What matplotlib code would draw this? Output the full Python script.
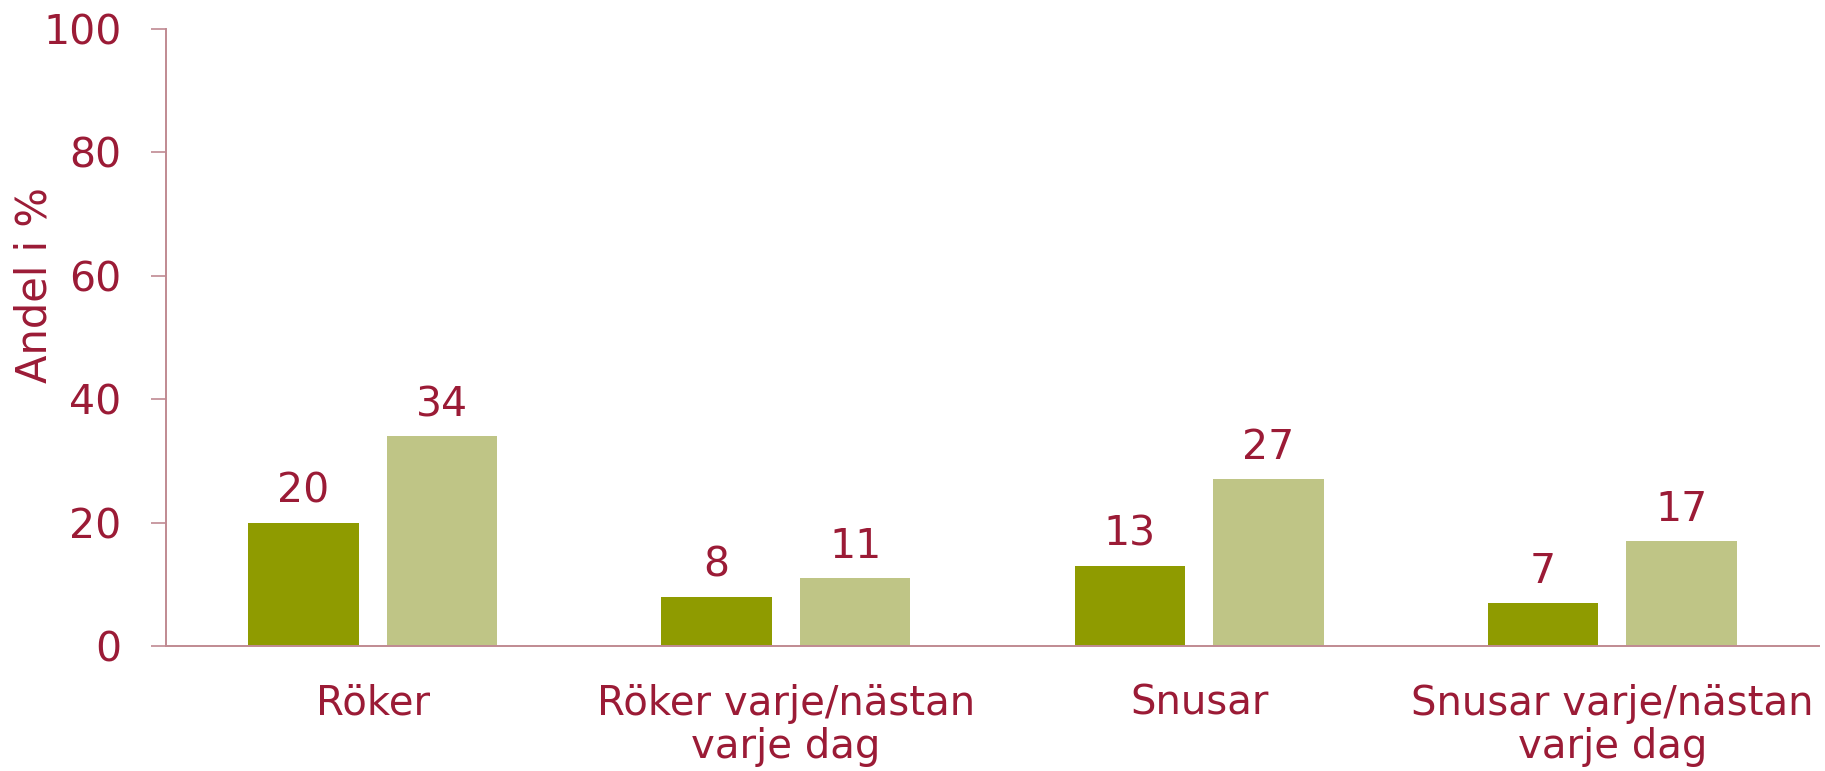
import matplotlib.pyplot as plt
import numpy as np

# data
categories = ["Röker", "Röker varje/nästan\nvarje dag", "Snusar", "Snusar varje/nästan\nvarje dag"]
series_dark = [20, 8, 13, 7]
series_light = [34, 11, 27, 17]
yticks = [0, 20, 40, 60, 80, 100]

text_col = "#9B1B36"
axis_col = "#C08A92"
dark_col = "#8F9B00"
light_col = "#BFC586"

plt.rcParams['font.family'] = ['DejaVu Sans']

fig = plt.figure(figsize=(18.25, 7.71), dpi=100)
ax = fig.add_axes([0.0910, 0.1621, 0.9057, 0.8003])

x = np.arange(len(categories))
width = 0.267
offset = 0.1676
b1 = ax.bar(x - offset, series_dark, width, color=dark_col)
b2 = ax.bar(x + offset, series_light, width, color=light_col)

for bars, vals in ((b1, series_dark), (b2, series_light)):
    for rect, v in zip(bars, vals):
        ax.annotate(f"{v}", (rect.get_x() + rect.get_width() / 2, v),
                    xytext=(0, 8), textcoords="offset points",
                    ha="center", va="bottom", fontsize=29.5, color=text_col)

ax.set_xlim(-0.5, len(categories) - 0.5)
ax.set_ylim(0, 100)
ax.set_yticks(yticks)
ax.set_yticklabels([str(t) for t in yticks])
ax.set_xticks(x)
ax.set_xticklabels(categories, linespacing=1.1)

ax.tick_params(axis="y", length=11, width=1.2, color=axis_col, pad=21,
               labelsize=29.5, labelcolor=text_col)
ax.tick_params(axis="x", length=0, pad=27, labelsize=29, labelcolor=text_col)

for side in ("top", "right"):
    ax.spines[side].set_visible(False)
for side in ("left", "bottom"):
    ax.spines[side].set_color(axis_col)
    ax.spines[side].set_linewidth(1.4)

fig.text(0.019, 0.63, "Andel i %", rotation=90, ha="center", va="center",
         fontsize=30, color=text_col)

fig.savefig("out.png", dpi=100)
